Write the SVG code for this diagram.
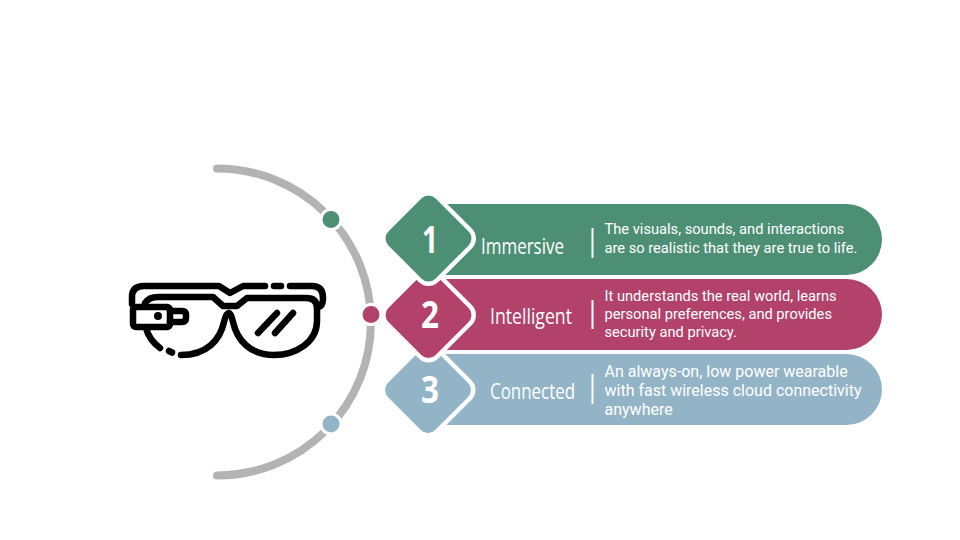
<svg xmlns="http://www.w3.org/2000/svg" width="960" height="540" viewBox="0 0 960 540">
<style>
.dia{stroke:#fff;stroke-width:4.5}
.num{font:700 37px "Open Sans",sans-serif;fill:#fff;text-anchor:middle}
.lab{font:400 21px "Open Sans",sans-serif;fill:#fff}
.body{font:400 14.67px Roboto,sans-serif;fill:#fff}
.b3{font-size:16px}
.div{stroke:#fff;stroke-width:2}
.g{fill:none;stroke:#000;stroke-width:6.500;stroke-linecap:round;stroke-linejoin:round}
.dot{stroke:#fff;stroke-width:3}
.green{fill:#4d8f75}.red{fill:#b24269}.blue{fill:#93b4c6}
</style>
<rect width="960" height="540" fill="#fff"/>
<g id="connectors">
<path d="M217 168.500A154 153.500 0 0 1 217 475.500" fill="none" stroke="#b3b3b3" stroke-width="8" stroke-linecap="round"/>
</g>
<g id="dots">
<circle class="dot green" cx="331" cy="219.500" r="10"/>
<circle class="dot red" cx="371" cy="314.500" r="10"/>
<circle class="dot blue" cx="331" cy="424" r="10"/>
</g>
<g id="glasses" class="g">
<path d="M132 304V297Q132 286 144 286H219L230 293L243 286H265"/>
<path d="M274 286H281"/>
<path d="M290 286H312Q323 286 323 298Q323 307 317 307"/>
<path d="M145 303Q149 297 158 297H213L223 306H237L247 298H306Q317 298 317 308V321C317 342 296 355 274 355C250 355 237 340 233 322Q231 313 229 313Q226 313 224 322C220 340 207 355 181 355"/>
<path d="M169 351L172 352.500"/>
<path d="M160 348C152 342 148 336 146 328"/>
<rect x="133" y="307" width="37" height="20" rx="3"/>
<path d="M170 311H182Q186 311 186 315V318Q186 322 182 322H170"/>
<circle cx="158" cy="316" r="4" fill="#000" stroke="none"/>
<path d="M258 333L277 313M275 333L293 313"/>
</g>
<g id="item3">
<path class="blue" d="M430 354H846.500A35.500 35.500 0 0 1 846.500 425H430Z"/>
<rect class="dia blue" x="392.500" y="354.500" width="71" height="71" rx="12" transform="rotate(45 428 390)"/>
<text class="num" x="430" y="403" textLength="18" lengthAdjust="spacingAndGlyphs">3</text>
<text class="lab" x="490" y="399" textLength="85" lengthAdjust="spacingAndGlyphs">Connected</text>
<line class="div" x1="592.500" y1="374" x2="592.500" y2="404"/>
<text class="body b3"><tspan x="604.500" y="377">An always-on, low power wearable</tspan><tspan x="604.500" y="396">with fast wireless cloud connectivity</tspan><tspan x="604.500" y="415">anywhere</tspan></text>
</g>
<g id="item2">
<path class="red" d="M430 279H846.500A35.500 35.500 0 0 1 846.500 350H430Z"/>
<rect class="dia red" x="393" y="279.500" width="71" height="71" rx="12" transform="rotate(45 428.500 315)"/>
<text class="num" x="430" y="328" textLength="18" lengthAdjust="spacingAndGlyphs">2</text>
<text class="lab" x="490" y="324" textLength="82" lengthAdjust="spacingAndGlyphs">Intelligent</text>
<line class="div" x1="592.500" y1="300" x2="592.500" y2="329"/>
<text class="body"><tspan x="604.500" y="301">It understands the real world, learns</tspan><tspan x="604.500" y="319">personal preferences, and provides</tspan><tspan x="604.500" y="337">security and privacy.</tspan></text>
</g>
<g id="item1">
<path class="green" d="M430 204H846.500A35.500 35.500 0 0 1 846.500 275H430Z"/>
<rect class="dia green" x="393" y="203" width="71" height="71" rx="12" transform="rotate(45 428.500 238.500)"/>
<text class="num" x="430" y="253" textLength="16" lengthAdjust="spacingAndGlyphs">1</text>
<text class="lab" x="481" y="254" textLength="83" lengthAdjust="spacingAndGlyphs">Immersive</text>
<line class="div" x1="592.500" y1="228" x2="592.500" y2="258"/>
<text class="body"><tspan x="604.500" y="234">The visuals, sounds, and interactions</tspan><tspan x="604.500" y="253">are so realistic that they are true to life.</tspan></text>
</g>
</svg>
